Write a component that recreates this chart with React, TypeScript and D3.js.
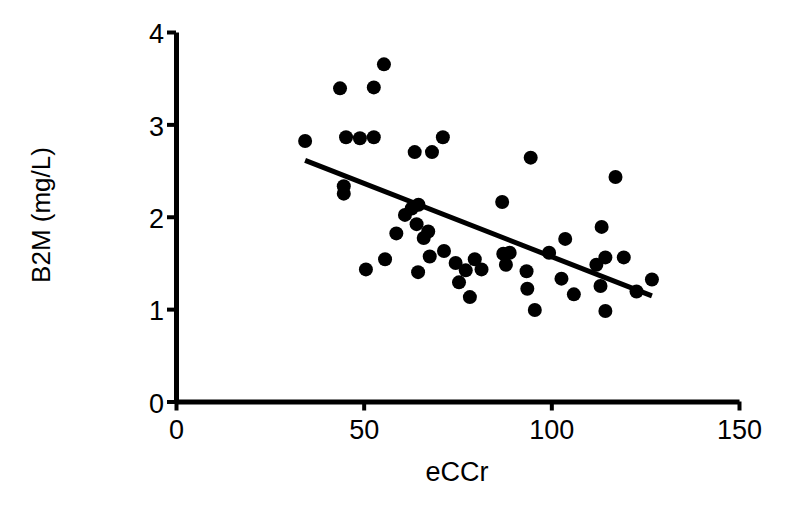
import React, { useEffect, useRef } from "react";
import * as d3 from "d3";

// eCCr values (x) and matching B2M values (y)
const eccr = [
  34.4, 43.7, 52.7, 55.4, 45.3, 49.0, 52.7, 44.7, 44.7, 63.6, 68.2, 71.1,
  50.6, 55.7, 58.7, 64.5, 61.0, 62.8, 64.6, 64.1, 67.2, 66.0, 67.6, 71.4,
  74.5, 77.2, 75.4, 78.3, 79.6, 81.4, 94.5, 117.1, 86.9, 113.4, 103.7, 99.4,
  114.4, 119.3, 112.0, 87.2, 88.9, 87.9, 93.4, 102.7, 93.6, 106.0, 113.1,
  126.8, 122.7, 95.6, 114.4,
];
const b2m = [
  2.82, 3.39, 3.4, 3.65, 2.86, 2.85, 2.86, 2.33, 2.25, 2.7, 2.7, 2.86,
  1.43, 1.54, 1.82, 1.4, 2.02, 2.09, 2.13, 1.92, 1.84, 1.77, 1.57, 1.63,
  1.5, 1.42, 1.29, 1.13, 1.54, 1.43, 2.64, 2.43, 2.16, 1.89, 1.76, 1.61,
  1.56, 1.56, 1.48, 1.6, 1.61, 1.48, 1.41, 1.33, 1.22, 1.16, 1.25,
  1.32, 1.19, 0.99, 0.98,
];

// linear fit shown on the chart
const fitSlope = -0.01587;
const fitIntercept = 3.156;

const xTicks = [0, 50, 100, 150];
const yTicks = [0, 1, 2, 3, 4];

const W = 786;
const H = 528;

const ScatterFit = () => {
  const svgRef = useRef<SVGSVGElement>(null);

  useEffect(() => {
    const svg = d3.select(svgRef.current);
    svg.selectAll("*").remove();

    const x = d3.scaleLinear().domain([0, 150]).range([176, 739]);
    const y = d3.scaleLinear().domain([0, 4]).range([401.5, 32]);
    const font = "Arial, 'Liberation Sans', Helvetica, sans-serif";
    const fs = 27;

    // Y axis
    const gy = svg
      .append("g")
      .attr("transform", `translate(${x(0)},0)`)
      .call(
        d3
          .axisLeft(y)
          .tickValues(yTicks)
          .tickFormat(d3.format("d"))
          .tickSize(9)
          .tickSizeOuter(0)
          .tickPadding(3)
      );
    gy.select(".domain").attr("stroke", "#000").attr("stroke-width", 5);
    gy.selectAll(".tick line").attr("stroke", "#000").attr("stroke-width", 4);
    gy.selectAll(".tick text")
      .attr("font-family", font)
      .attr("font-size", fs)
      .attr("fill", "#000")
      .attr("dy", "0.4em");

    // X axis
    const gx = svg
      .append("g")
      .attr("transform", `translate(0,${y(0)})`)
      .call(
        d3
          .axisBottom(x)
          .tickValues(xTicks)
          .tickFormat(d3.format("d"))
          .tickSize(9)
          .tickSizeOuter(0)
          .tickPadding(9)
      );
    gx.select(".domain").attr("stroke", "#000").attr("stroke-width", 5);
    gx.selectAll(".tick line").attr("stroke", "#000").attr("stroke-width", 4);
    gx.selectAll(".tick text")
      .attr("font-family", font)
      .attr("font-size", fs)
      .attr("fill", "#000");

    // Axis titles
    svg
      .append("text")
      .attr("x", 457)
      .attr("y", 481)
      .attr("text-anchor", "middle")
      .attr("font-family", font)
      .attr("font-size", fs)
      .text("eCCr");
    svg
      .append("text")
      .attr("transform", "translate(50,215) rotate(-90)")
      .attr("text-anchor", "middle")
      .attr("font-family", font)
      .attr("font-size", 26)
      .text("B2M (mg/L)");

    // Points
    svg
      .append("g")
      .selectAll("circle")
      .data(eccr)
      .enter()
      .append("circle")
      .attr("cx", (d) => x(d))
      .attr("cy", (d, i) => y(b2m[i]))
      .attr("r", 7)
      .attr("fill", "#000");

    // Regression line over the data range
    const [xMin, xMax] = d3.extent(eccr) as [number, number];
    svg
      .append("line")
      .attr("x1", x(xMin))
      .attr("y1", y(fitIntercept + fitSlope * xMin))
      .attr("x2", x(xMax))
      .attr("y2", y(fitIntercept + fitSlope * xMax))
      .attr("stroke", "#000")
      .attr("stroke-width", 5);
  }, []);

  return <svg ref={svgRef} width={W} height={H} style={{ display: "block" }}></svg>;
};

export default function App() {
  return (
    <div style={{ margin: -8 }}>
      <ScatterFit />
    </div>
  );
}
